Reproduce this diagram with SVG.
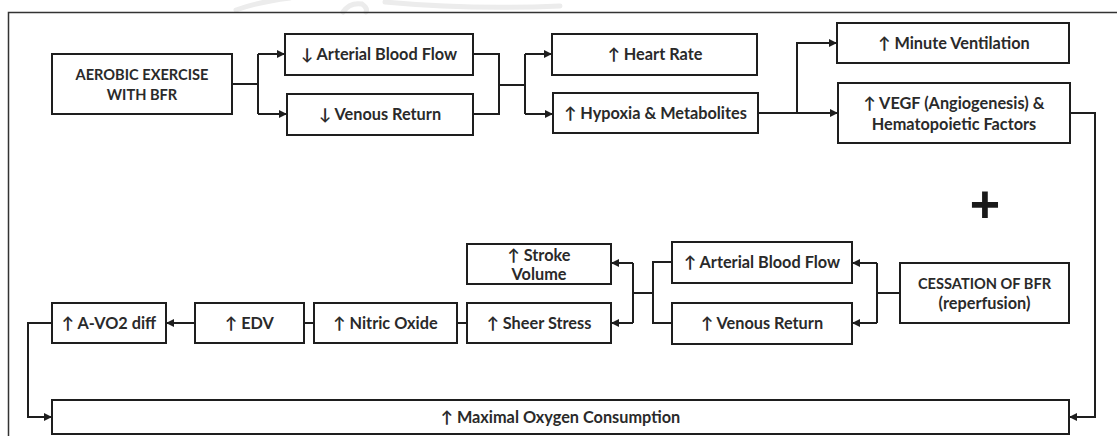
<svg xmlns="http://www.w3.org/2000/svg" width="1117" height="436" viewBox="0 0 1117 436">
  <style>
    .box { fill: #ffffff; stroke: #1e1e1e; stroke-width: 2; }
    .lbl { font-family: Lato, "Open Sans", "Liberation Sans", sans-serif; font-weight: 700; font-size: 16.3px; fill: #2a2a2a; text-anchor: middle; }
    .caps { font-size: 14.6px; }
    .wire { fill: none; stroke: #1e1e1e; stroke-width: 2; }
    .frame { fill: none; stroke: #333333; stroke-width: 1.5; }
    .plus { font-family: "Liberation Sans", Arial, sans-serif; font-weight: 700; font-size: 52px; fill: #1a1a1a; text-anchor: middle; }
  </style>
  <defs>
    <marker id="arrow" markerUnits="userSpaceOnUse" markerWidth="9" markerHeight="8" refX="8" refY="4" orient="auto">
      <path d="M0,0 L8,4 L0,8 z" fill="#1e1e1e"/>
    </marker>
  </defs>

  <rect width="1117" height="436" fill="#ffffff"/>

  <!-- faint seal mark along the top edge -->
  <g id="seal" fill="none" stroke="#ececec" stroke-width="5" stroke-linecap="round">
    <path d="M236,10 Q258,2 290,-2"/>
    <path d="M343,12 Q350,2 362,4 Q368,8 366,12"/>
    <path d="M385,2 Q470,10 560,6"/>
  </g>

  <!-- page frame -->
  <path class="frame" d="M8.5,436 V12.5 H1117"/>

  <!-- connectors -->
  <g id="connectors">
    <path class="wire" d="M232,84 H258 M258,54 V114"/>
    <path class="wire" d="M258,54 H285" marker-end="url(#arrow)"/>
    <path class="wire" d="M258,114 H287" marker-end="url(#arrow)"/>

    <path class="wire" d="M473,54 H499 V114 H473 M499,85 H525 M525,54 V114"/>
    <path class="wire" d="M525,54 H552" marker-end="url(#arrow)"/>
    <path class="wire" d="M525,114 H553" marker-end="url(#arrow)"/>

    <path class="wire" d="M758,113 H838" marker-end="url(#arrow)"/>
    <path class="wire" d="M797,113 V43 H837" marker-end="url(#arrow)"/>

    <path class="wire" d="M1070,113 H1095 V417 H1069" marker-end="url(#arrow)"/>

    <path class="wire" d="M900,293 H877 M877,263 V323"/>
    <path class="wire" d="M877,263 H852" marker-end="url(#arrow)"/>
    <path class="wire" d="M877,323 H852" marker-end="url(#arrow)"/>

    <path class="wire" d="M672,262 H653 V323 H672 M653,293 H633 M633,263 V323"/>
    <path class="wire" d="M633,263 H611" marker-end="url(#arrow)"/>
    <path class="wire" d="M633,323 H611" marker-end="url(#arrow)"/>

    <path class="wire" d="M467,323 H457"/>
    <path class="wire" d="M314,323 H304"/>
    <path class="wire" d="M195,323 H166" marker-end="url(#arrow)"/>

    <path class="wire" d="M52,323 H28 V417 H52" marker-end="url(#arrow)"/>
  </g>

  <!-- nodes -->
  <g id="aerobic">
    <rect class="box" x="52" y="54" width="180" height="60"/>
    <text class="lbl caps" x="142" y="80">AEROBIC EXERCISE</text>
    <text class="lbl caps" x="142" y="100">WITH BFR</text>
  </g>
  <g id="arterial-down">
    <rect class="box" x="285" y="34" width="188" height="41"/>
    <text class="lbl" x="379" y="60">↓ Arterial Blood Flow</text>
  </g>
  <g id="venous-down">
    <rect class="box" x="287" y="94" width="186" height="41"/>
    <text class="lbl" x="380" y="120">↓ Venous Return</text>
  </g>
  <g id="heart-rate">
    <rect class="box" x="552" y="34" width="205" height="41"/>
    <text class="lbl" x="655" y="60">↑ Heart Rate</text>
  </g>
  <g id="hypoxia">
    <rect class="box" x="553" y="93" width="205" height="40"/>
    <text class="lbl" x="655.5" y="119">↑ Hypoxia &amp; Metabolites</text>
  </g>
  <g id="minute-ventilation">
    <rect class="box" x="837" y="23" width="232" height="40"/>
    <text class="lbl" x="954" y="49">↑ Minute Ventilation</text>
  </g>
  <g id="vegf">
    <rect class="box" x="838" y="83" width="232" height="60"/>
    <text class="lbl" x="954" y="109">↑ VEGF (Angiogenesis) &amp;</text>
    <text class="lbl" x="954" y="129.5">Hematopoietic Factors</text>
  </g>
  <g id="plus">
    <text class="plus" x="985" y="222">+</text>
  </g>
  <g id="cessation">
    <rect class="box" x="900" y="263" width="169" height="60"/>
    <text class="lbl caps" x="984.5" y="288.5">CESSATION OF BFR</text>
    <text class="lbl" x="984.5" y="309">(reperfusion)</text>
  </g>
  <g id="arterial-up">
    <rect class="box" x="672" y="242" width="180" height="41"/>
    <text class="lbl" x="762" y="268">↑ Arterial Blood Flow</text>
  </g>
  <g id="venous-up">
    <rect class="box" x="672" y="303" width="180" height="41"/>
    <text class="lbl" x="762" y="329">↑ Venous Return</text>
  </g>
  <g id="stroke-volume">
    <rect class="box" x="467" y="244" width="144" height="40"/>
    <text class="lbl" x="539" y="260.5">↑ Stroke</text>
    <text class="lbl" x="539" y="280">Volume</text>
  </g>
  <g id="sheer-stress">
    <rect class="box" x="467" y="303" width="144" height="40"/>
    <text class="lbl" x="539" y="328.5">↑ Sheer Stress</text>
  </g>
  <g id="nitric-oxide">
    <rect class="box" x="314" y="303" width="143" height="40"/>
    <text class="lbl" x="385.5" y="329">↑ Nitric Oxide</text>
  </g>
  <g id="edv">
    <rect class="box" x="195" y="303" width="109" height="40"/>
    <text class="lbl" x="249.5" y="329">↑ EDV</text>
  </g>
  <g id="avo2">
    <rect class="box" x="52" y="303" width="114" height="40"/>
    <text class="lbl" x="109" y="329">↑ A-VO2 diff</text>
  </g>
  <g id="vo2max">
    <rect class="box" x="52" y="400" width="1017" height="34"/>
    <text class="lbl" x="560.5" y="423">↑ Maximal Oxygen Consumption</text>
  </g>
</svg>
